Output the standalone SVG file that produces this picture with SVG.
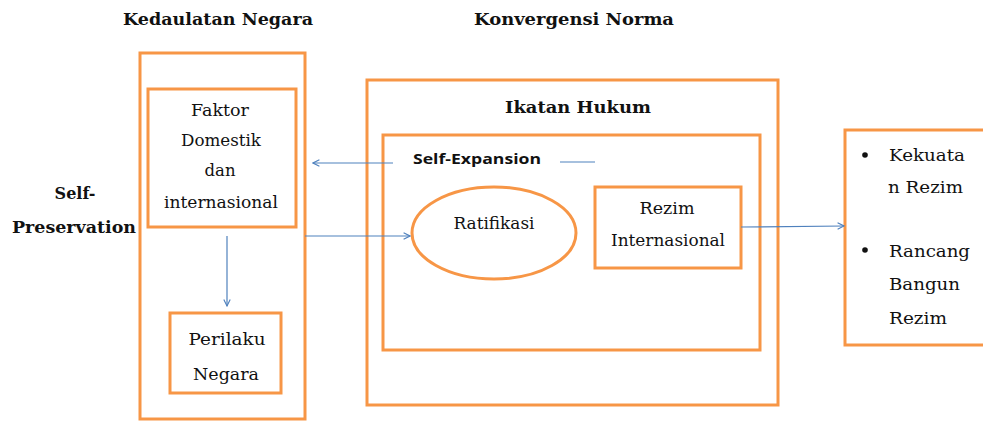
<svg xmlns="http://www.w3.org/2000/svg" width="983" height="421" viewBox="0 0 983 421">
<style>
.box{fill:none;stroke:#F79646;stroke-width:3}
.t{font-family:"DejaVu Serif","Liberation Serif",serif;font-size:16.5px;fill:#111;text-anchor:middle}
.tl{font-family:"DejaVu Serif","Liberation Serif",serif;font-size:17px;fill:#111}
.h{font-family:"DejaVu Serif","Liberation Serif",serif;font-size:16px;font-weight:bold;fill:#111;text-anchor:middle}
.s{font-family:"Open Sans","DejaVu Sans",sans-serif;font-size:14px;font-weight:bold;fill:#111}
.c{fill:none;stroke:#4F81BD;stroke-width:1.2}
</style>
<defs>
<marker id="ah" viewBox="0 0 10 10" refX="9" refY="5" markerWidth="8" markerHeight="8" markerUnits="userSpaceOnUse" orient="auto">
<path d="M1,1 L9,5 L1,9" fill="none" stroke="#4F81BD" stroke-width="1.4"/>
</marker>
</defs>
<rect width="983" height="421" fill="#fff"/>
<g id="titles">
<text class="h" x="218" y="25" textLength="190" lengthAdjust="spacingAndGlyphs">Kedaulatan Negara</text>
<text class="h" x="574" y="25" textLength="200" lengthAdjust="spacingAndGlyphs">Konvergensi Norma</text>
<text class="h" x="75" y="199">Self-</text>
<text class="h" x="74" y="233" textLength="124" lengthAdjust="spacingAndGlyphs">Preservation</text>
</g>
<g id="kedaulatan">
<rect class="box" x="140" y="53" width="165" height="366"/>
</g>
<g id="faktor">
<rect class="box" x="148" y="89" width="148" height="138"/>
<text class="t" x="220" y="116" textLength="58" lengthAdjust="spacingAndGlyphs">Faktor</text>
<text class="t" x="221" y="146" textLength="80" lengthAdjust="spacingAndGlyphs">Domestik</text>
<text class="t" x="220" y="176" textLength="31" lengthAdjust="spacingAndGlyphs">dan</text>
<text class="t" x="221" y="208" textLength="114" lengthAdjust="spacingAndGlyphs">internasional</text>
</g>
<g id="perilaku">
<rect class="box" x="170" y="313" width="111" height="80"/>
<text class="t" x="227" y="345" textLength="77" lengthAdjust="spacingAndGlyphs">Perilaku</text>
<text class="t" x="226" y="380" textLength="66" lengthAdjust="spacingAndGlyphs">Negara</text>
</g>
<g id="ikatan">
<rect class="box" x="367" y="80" width="411" height="325"/>
<text class="h" x="578" y="113" textLength="146" lengthAdjust="spacingAndGlyphs">Ikatan Hukum</text>
</g>
<g id="selfexpansion">
<rect class="box" x="383" y="135" width="377" height="215"/>
<text class="s" x="413" y="164" textLength="128" lengthAdjust="spacingAndGlyphs">Self-Expansion</text>
</g>
<g id="ratifikasi">
<ellipse cx="494" cy="233" rx="82" ry="46" fill="none" stroke="#F79646" stroke-width="3"/>
<text class="t" x="494" y="229" textLength="81" lengthAdjust="spacingAndGlyphs">Ratifikasi</text>
</g>
<g id="rezim">
<rect class="box" x="595" y="187" width="146" height="81"/>
<text class="t" x="667" y="214" textLength="55" lengthAdjust="spacingAndGlyphs">Rezim</text>
<text class="t" x="668" y="246" textLength="114" lengthAdjust="spacingAndGlyphs">Internasional</text>
</g>
<g id="hasil">
<rect class="box" x="845" y="130" width="145" height="215"/>
<circle cx="865" cy="155" r="2.8" fill="#111"/>
<circle cx="865" cy="250" r="2.8" fill="#111"/>
<text class="tl" x="889" y="161" textLength="76" lengthAdjust="spacingAndGlyphs">Kekuata</text>
<text class="tl" x="888" y="193" textLength="75" lengthAdjust="spacingAndGlyphs">n Rezim</text>
<text class="tl" x="889" y="257" textLength="81" lengthAdjust="spacingAndGlyphs">Rancang</text>
<text class="tl" x="889" y="290" textLength="71" lengthAdjust="spacingAndGlyphs">Bangun</text>
<text class="tl" x="889" y="324" textLength="58" lengthAdjust="spacingAndGlyphs">Rezim</text>
</g>
<g id="connectors">
<line class="c" x1="393" y1="163" x2="313" y2="163" marker-end="url(#ah)"/>
<line class="c" x1="560" y1="162" x2="595" y2="162"/>
<line class="c" x1="227" y1="236" x2="227" y2="306" marker-end="url(#ah)"/>
<line class="c" x1="305" y1="236" x2="410" y2="236" marker-end="url(#ah)"/>
<line class="c" x1="741" y1="227" x2="844" y2="226" marker-end="url(#ah)"/>
</g>
</svg>
